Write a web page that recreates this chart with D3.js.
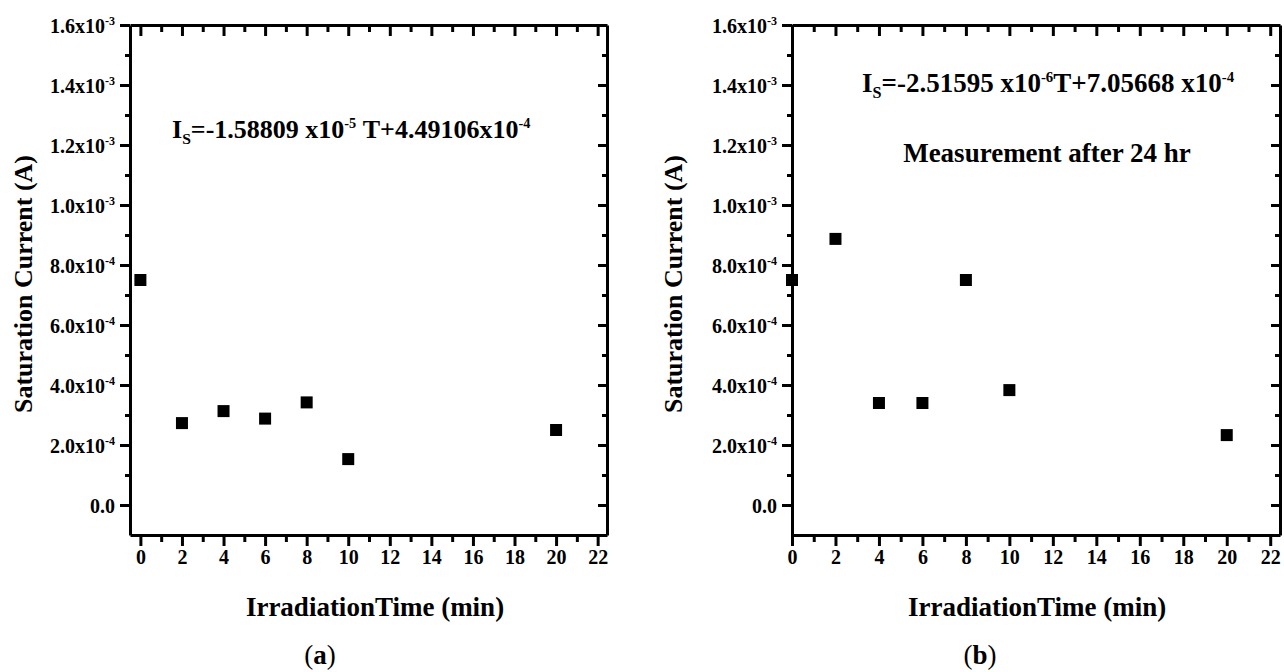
<!DOCTYPE html>
<html>
<head>
<meta charset="utf-8">
<script src="https://cdn.jsdelivr.net/npm/d3@7"></script>
<style>
  body { margin: 0; background: #fff; }
  svg { display: block; font-family: "Liberation Serif", "Times New Roman", serif; font-weight: bold; }
</style>
</head>
<body>
<svg id="chart" width="1284" height="672"></svg>
<script>
// Data
const times = [0, 2, 4, 6, 8, 10, 20]
const currentA = [7.5e-4, 2.73e-4, 3.13e-4, 2.88e-4, 3.42e-4, 1.53e-4, 2.5e-4]
const currentB = [7.5e-4, 8.87e-4, 3.4e-4, 3.4e-4, 7.5e-4, 3.83e-4, 2.33e-4]
const xTicks = [0, 2, 4, 6, 8, 10, 12, 14, 16, 18, 20, 22]
const xMinor = [1, 3, 5, 7, 9, 11, 13, 15, 17, 19, 21]
const yTicks = [0, 2e-4, 4e-4, 6e-4, 8e-4, 1e-3, 1.2e-3, 1.4e-3, 1.6e-3]
const yMinor = [1e-4, 3e-4, 5e-4, 7e-4, 9e-4, 1.1e-3, 1.3e-3, 1.5e-3]
const yTickLabels = ["0.0", "2.0x10^-4", "4.0x10^-4", "6.0x10^-4", "8.0x10^-4", "1.0x10^-3", "1.2x10^-3", "1.4x10^-3", "1.6x10^-3"]
const xTitle = "IrradiationTime (min)"
const yTitle = "Saturation Current (A)"

const svg = d3.select("#chart")

/** Writes "base^exp" text as tspans. */
function supText(sel, str, supSize) {
  const [base, exp] = str.split("^")
  sel.text(null)
  sel.append("tspan").text(base)
  if (exp) sel.append("tspan").attr("font-size", supSize).attr("dy", -8).text(exp)
}

/** Draws one framed scatter panel. */
function panel({ x0, x1, xmin, xmax, values, yTitleX, caption, captionX }) {
  const top = 25, bottom = 535
  const x = d3.scaleLinear().domain([xmin, xmax]).range([x0, x1])
  const y = d3.scaleLinear().domain([-1e-4, 1.6e-3]).range([bottom, top])
  const g = svg.append("g")

  const style = (sel) => {
    sel.attr("font-family", null).attr("font-size", null)
    sel.select(".domain").attr("stroke", "#000").attr("stroke-width", 3)
    sel.selectAll(".tick line").attr("stroke", "#000").attr("stroke-width", 3)
    sel.selectAll(".tick text").attr("font-size", 20).attr("fill", "#000")
  }

  // Bottom axis (outward ticks)
  g.append("g").attr("transform", `translate(0,${bottom})`)
    .call(d3.axisBottom(x).tickValues(xTicks).tickSize(11).tickSizeOuter(0).tickPadding(4))
    .call(style)
  g.append("g").attr("transform", `translate(0,${bottom})`)
    .call(d3.axisBottom(x).tickValues(xMinor).tickSize(7).tickFormat("")).call(style)
    .call(s => s.select(".domain").remove())

  // Top axis (inward ticks)
  g.append("g").attr("transform", `translate(0,${top})`)
    .call(d3.axisTop(x).tickValues(xTicks).tickSize(-11).tickSizeOuter(0).tickFormat("")).call(style)
  g.append("g").attr("transform", `translate(0,${top})`)
    .call(d3.axisTop(x).tickValues(xMinor).tickSize(-7).tickFormat("")).call(style)
    .call(s => s.select(".domain").remove())

  // Left axis (outward ticks)
  g.append("g").attr("transform", `translate(${x0},0)`)
    .call(d3.axisLeft(y).tickValues(yTicks).tickSize(10).tickSizeOuter(0).tickPadding(5)
      .tickFormat((d, i) => yTickLabels[i]))
    .call(style)
    .call(s => s.selectAll(".tick text")
      .attr("dy", 7).each(function (d, i) { supText(d3.select(this), yTickLabels[i], 12) }))
  g.append("g").attr("transform", `translate(${x0},0)`)
    .call(d3.axisLeft(y).tickValues(yMinor).tickSize(5).tickFormat("")).call(style)
    .call(s => s.select(".domain").remove())

  // Right axis (inward ticks)
  g.append("g").attr("transform", `translate(${x1},0)`)
    .call(d3.axisRight(y).tickValues(yTicks).tickSize(-9).tickSizeOuter(0).tickFormat("")).call(style)
  g.append("g").attr("transform", `translate(${x1},0)`)
    .call(d3.axisRight(y).tickValues(yMinor).tickSize(-5).tickFormat("")).call(style)
    .call(s => s.select(".domain").remove())

  // Points
  g.append("g").selectAll("rect")
    .data(times.map((t, i) => [t, values[i]]))
    .join("rect")
    .attr("x", d => x(d[0]) - 6)
    .attr("y", d => y(d[1]) - 6)
    .attr("width", 12)
    .attr("height", 12)
    .attr("fill", "#000")

  // Titles
  g.append("text")
    .attr("x", (x(0) + x(22)) / 2 + 6)
    .attr("y", 616)
    .attr("text-anchor", "middle")
    .attr("font-size", 27)
    .text(xTitle)
  g.append("text")
    .attr("transform", `translate(${yTitleX},${(top + bottom) / 2 + 4}) rotate(-90)`)
    .attr("text-anchor", "middle")
    .attr("font-size", 26)
    .text(yTitle)

  // Caption
  const c = g.append("text").attr("x", captionX).attr("y", 664).attr("text-anchor", "middle").attr("font-size", 27)
  c.append("tspan").attr("font-weight", "normal").text("(")
  c.append("tspan").text(caption)
  c.append("tspan").attr("font-weight", "normal").text(")")
  return g
}

/** Writes a fit equation I_S=... with superscripts. */
function equation(g, xPos, yPos, size, parts) {
  const t = g.append("text").attr("x", xPos).attr("y", yPos).attr("font-size", size)
  t.append("tspan").text("I")
  t.append("tspan").attr("font-size", size * 0.6).attr("dy", 6).text("S")
  let dy = -6
  parts.forEach(([txt, sup]) => {
    t.append("tspan").attr("dy", dy).text(txt)
    t.append("tspan").attr("font-size", size * 0.55).attr("dy", -10).text(sup)
    dy = 10
  })
}

const gA = panel({ x0: 130, x1: 607, xmin: -0.5, xmax: 22.45, values: currentA, yTitleX: 32, caption: "a", captionX: 320 })
equation(gA, 172, 138, 26, [["=-1.58809 x10", "-5"], ["\u00a0T+4.49106x10", "-4"]])

const gB = panel({ x0: 792, x1: 1280, xmin: 0, xmax: 22.45, values: currentB, yTitleX: 682, caption: "b", captionX: 980 })
equation(gB, 862, 92, 27, [["=-2.51595 x10", "-6"], ["T+7.05668 x10", "-4"]])
gB.append("text")
  .attr("x", 1047)
  .attr("y", 162)
  .attr("text-anchor", "middle")
  .attr("font-size", 27)
  .text("Measurement after 24 hr")
</script>
</body>
</html>
